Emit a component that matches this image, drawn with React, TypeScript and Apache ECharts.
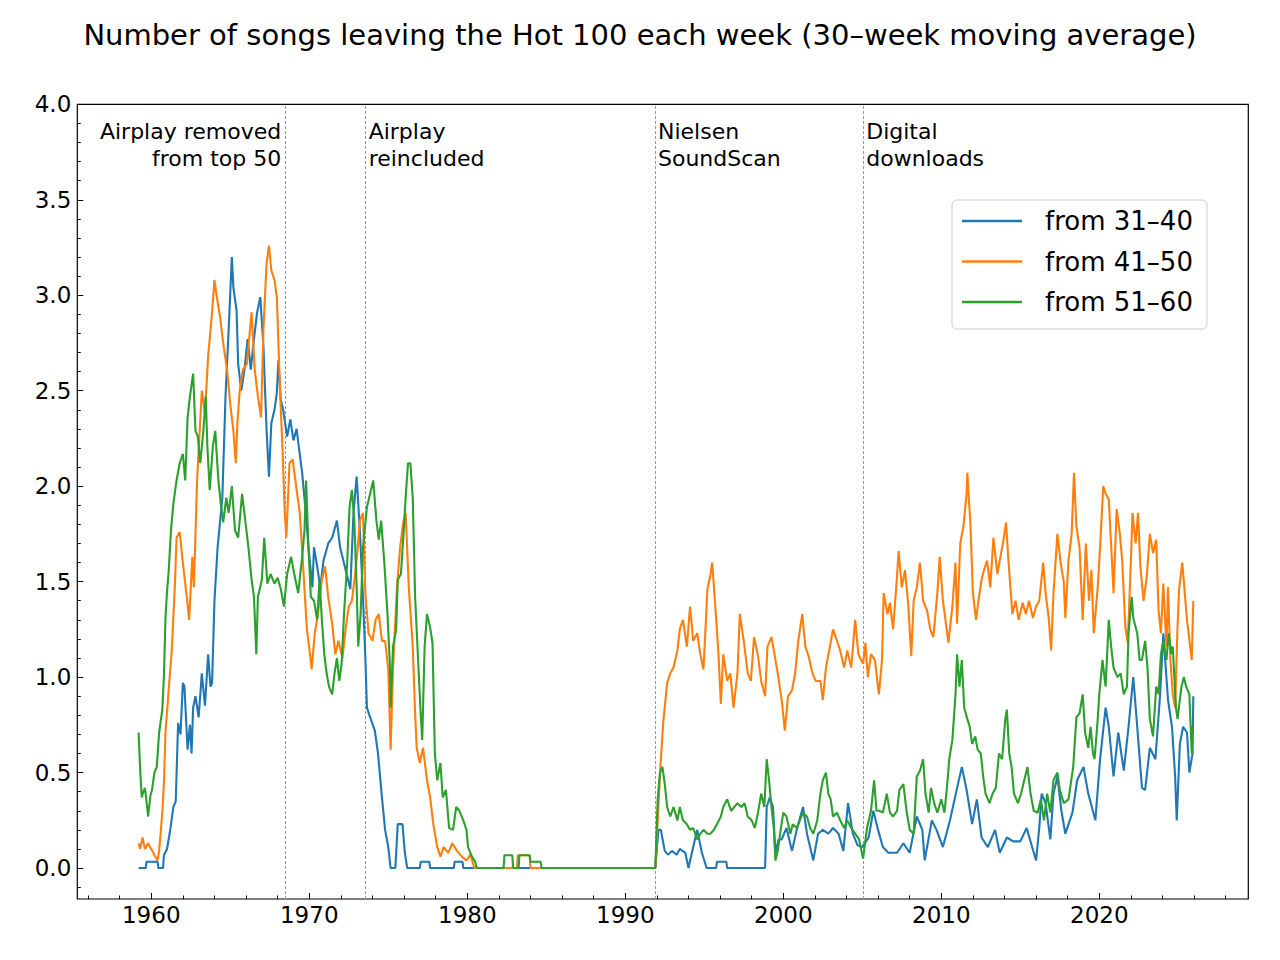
import React, { useEffect, useRef } from "react";
import * as echarts from "echarts";

const TITLE = "Number of songs leaving the Hot 100 each week (30–week moving average)";
const SERIES_NAMES = ["from 31–40", "from 41–50", "from 51–60"];
const COLORS = ["#1f77b4", "#ff7f0e", "#2ca02c"];

const X_MIN = 1955.32;
const X_MAX = 2029.43;
const Y_MIN = -0.162;
const Y_MAX = 4.0;

const X_MAJOR = [1960, 1970, 1980, 1990, 2000, 2010, 2020];
const X_MINOR = [1956, 1958, 1962, 1964, 1966, 1968, 1972, 1974, 1976, 1978, 1982, 1984, 1986, 1988, 1992, 1994, 1996, 1998, 2002, 2004, 2006, 2008, 2012, 2014, 2016, 2018, 2022, 2024, 2026, 2028];
const Y_MAJOR = [0, 0.5, 1.0, 1.5, 2.0, 2.5, 3.0, 3.5, 4.0];
const Y_MINOR = [-0.1, 0.1, 0.2, 0.3, 0.4, 0.6, 0.7, 0.8, 0.9, 1.1, 1.2, 1.3, 1.4, 1.6, 1.7, 1.8, 1.9, 2.1, 2.2, 2.3, 2.4, 2.6, 2.7, 2.8, 2.9, 3.1, 3.2, 3.3, 3.4, 3.6, 3.7, 3.8, 3.9];

const EVENT_YEARS = [1968.48, 1973.57, 1991.88, 2005.06];
const EVENT_LINES = [["Airplay removed", "from top 50"], ["Airplay", "reincluded"], ["Nielsen", "SoundScan"], ["Digital", "downloads"]];
const EVENT_SIDE = ["left", "right", "right", "right"];

const S31_40: [number, number][] = [
  [1959.2, 0], [1959.65, 0], [1959.7, 0.033], [1960.4, 0.033], [1960.45, 0], [1960.75, 0], [1960.8, 0.067], [1961.0, 0.1], [1961.2, 0.2], [1961.4, 0.32], [1961.55, 0.35], [1961.7, 0.76], [1961.85, 0.7], [1962.0, 0.97], [1962.1, 0.95], [1962.3, 0.62], [1962.45, 0.75], [1962.55, 0.6], [1962.65, 0.84], [1962.8, 0.9], [1963.0, 0.79], [1963.2, 1.02], [1963.4, 0.85], [1963.6, 1.12], [1963.75, 0.95], [1963.85, 0.97], [1964.0, 1.40], [1964.2, 1.68], [1964.5, 1.94], [1964.7, 2.47], [1964.9, 2.82], [1965.1, 3.2], [1965.2, 3.04], [1965.4, 2.92], [1965.5, 2.64], [1965.7, 2.5], [1965.9, 2.61], [1966.1, 2.77], [1966.3, 2.61], [1966.5, 2.77], [1966.7, 2.91], [1966.9, 2.99], [1967.1, 2.73], [1967.3, 2.29], [1967.45, 2.05], [1967.6, 2.33], [1967.8, 2.4], [1967.95, 2.49], [1968.05, 2.66], [1968.2, 2.45], [1968.35, 2.4], [1968.6, 2.26], [1968.8, 2.35], [1969.0, 2.24], [1969.2, 2.3], [1969.35, 2.2], [1969.55, 2.07], [1969.75, 1.89], [1969.95, 1.68], [1970.2, 1.47], [1970.3, 1.68], [1970.5, 1.58], [1970.7, 1.47], [1970.9, 1.61], [1971.2, 1.7], [1971.45, 1.73], [1971.75, 1.82], [1971.95, 1.68], [1972.25, 1.58], [1972.6, 1.46], [1972.8, 1.86], [1973.0, 2.05], [1973.2, 1.77], [1973.4, 1.42], [1973.55, 1.1], [1973.65, 0.84], [1973.85, 0.79], [1974.15, 0.72], [1974.35, 0.6], [1974.6, 0.37], [1974.8, 0.2], [1975.0, 0.11], [1975.15, 0], [1975.45, 0], [1975.6, 0.23], [1975.9, 0.23], [1976.05, 0.08], [1976.2, 0], [1977.0, 0], [1977.05, 0.033], [1977.6, 0.033], [1977.65, 0], [1979.15, 0], [1979.2, 0.033], [1979.7, 0.033], [1979.75, 0], [1991.9, 0],
  [1992.1, 0.2], [1992.25, 0.2], [1992.5, 0.09], [1992.7, 0.07], [1992.95, 0.09], [1993.25, 0.07], [1993.45, 0.1], [1993.8, 0.08], [1994.0, 0], [1994.3, 0.11], [1994.55, 0.2], [1994.85, 0.08], [1995.15, 0], [1995.75, 0], [1995.8, 0.033], [1996.4, 0.033], [1996.45, 0], [1998.85, 0], [1998.95, 0.32], [1999.15, 0.37], [1999.35, 0.32], [1999.5, 0.08], [1999.7, 0.15], [1999.9, 0.15], [2000.2, 0.21], [2000.55, 0.09], [2000.85, 0.2], [2001.25, 0.32], [2001.5, 0.18], [2001.9, 0.04], [2002.2, 0.18], [2002.5, 0.2], [2002.85, 0.18], [2003.15, 0.21], [2003.5, 0.18], [2003.8, 0.09], [2004.1, 0.34], [2004.4, 0.18], [2004.7, 0.12], [2005.0, 0.11], [2005.4, 0.16], [2005.7, 0.3], [2006.0, 0.2], [2006.3, 0.11], [2006.65, 0.08], [2007.2, 0.08], [2007.6, 0.13], [2008.0, 0.08], [2008.45, 0.27], [2008.8, 0.2], [2008.95, 0.04], [2009.4, 0.25], [2009.7, 0.2], [2010.1, 0.11], [2010.55, 0.25], [2011.0, 0.42], [2011.3, 0.53], [2011.6, 0.41], [2011.95, 0.23], [2012.25, 0.36], [2012.55, 0.16], [2012.95, 0.11], [2013.4, 0.2], [2013.7, 0.08], [2014.15, 0.16], [2014.55, 0.14], [2015.0, 0.14], [2015.4, 0.21], [2015.75, 0.11], [2016.0, 0.04], [2016.2, 0.21], [2016.35, 0.39], [2016.6, 0.34], [2016.9, 0.15], [2017.1, 0.39], [2017.35, 0.48], [2017.6, 0.3], [2017.85, 0.18], [2018.3, 0.29], [2018.6, 0.46], [2019.0, 0.53], [2019.3, 0.39], [2019.75, 0.25], [2020.05, 0.57], [2020.4, 0.84], [2020.6, 0.74], [2020.9, 0.48], [2021.2, 0.71], [2021.55, 0.51], [2021.85, 0.74], [2022.15, 1.0], [2022.4, 0.74], [2022.7, 0.42], [2022.9, 0.41], [2023.2, 0.63], [2023.55, 0.57], [2023.85, 0.91], [2024.05, 1.23], [2024.35, 0.88], [2024.6, 0.74], [2024.8, 0.48], [2024.9, 0.25], [2025.1, 0.65], [2025.3, 0.74], [2025.55, 0.71], [2025.7, 0.5], [2025.9, 0.6], [2025.95, 0.9],
];

const S41_50: [number, number][] = [
  [1959.2, 0.13], [1959.3, 0.1], [1959.45, 0.16], [1959.6, 0.1], [1959.8, 0.13], [1960.0, 0.1], [1960.2, 0.07], [1960.4, 0.04], [1960.5, 0.09], [1960.7, 0.29], [1960.8, 0.44], [1960.9, 0.71], [1961.1, 0.93], [1961.3, 1.14], [1961.5, 1.49], [1961.6, 1.73], [1961.8, 1.76], [1962.0, 1.6], [1962.25, 1.42], [1962.4, 1.3], [1962.6, 1.63], [1962.7, 1.47], [1962.9, 2.03], [1963.2, 2.5], [1963.4, 2.38], [1963.6, 2.68], [1963.85, 2.91], [1964.0, 3.08], [1964.15, 2.99], [1964.35, 2.89], [1964.55, 2.75], [1964.8, 2.61], [1965.0, 2.43], [1965.2, 2.29], [1965.35, 2.12], [1965.45, 2.33], [1965.6, 2.5], [1965.8, 2.61], [1966.05, 2.64], [1966.25, 2.82], [1966.35, 2.91], [1966.55, 2.61], [1966.75, 2.47], [1966.95, 2.36], [1967.1, 2.82], [1967.3, 3.17], [1967.45, 3.26], [1967.6, 3.13], [1967.8, 3.08], [1967.95, 2.99], [1968.15, 2.5], [1968.3, 2.21], [1968.45, 1.86], [1968.55, 1.73], [1968.75, 2.12], [1968.95, 2.14], [1969.2, 1.98], [1969.4, 1.86], [1969.6, 1.6], [1969.85, 1.25], [1970.05, 1.12], [1970.15, 1.04], [1970.35, 1.23], [1970.55, 1.33], [1970.8, 1.51], [1971.0, 1.58], [1971.2, 1.42], [1971.45, 1.28], [1971.65, 1.12], [1971.85, 1.19], [1972.1, 1.1], [1972.3, 1.25], [1972.5, 1.37], [1972.7, 1.4], [1972.9, 1.54], [1973.05, 1.66], [1973.2, 1.82], [1973.4, 1.86], [1973.55, 1.44], [1973.75, 1.23], [1974.0, 1.19], [1974.2, 1.3], [1974.4, 1.33], [1974.6, 1.19], [1974.8, 1.19], [1975.0, 1.04], [1975.15, 0.62], [1975.3, 1.04], [1975.55, 1.47], [1975.75, 1.68], [1975.95, 1.81], [1976.1, 1.86], [1976.3, 1.47], [1976.55, 1.16], [1976.7, 0.81], [1976.8, 0.63], [1977.0, 0.55], [1977.2, 0.63], [1977.45, 0.46], [1977.65, 0.37], [1977.85, 0.23], [1978.1, 0.11], [1978.3, 0.06], [1978.5, 0.11], [1978.8, 0.08], [1979.05, 0.13], [1979.35, 0.09], [1979.65, 0.06], [1979.95, 0.04], [1980.2, 0.07], [1980.45, 0], [1983.15, 0], [1983.2, 0.067], [1983.95, 0.067], [1984.0, 0], [1991.9, 0],
  [1992.0, 0.15], [1992.2, 0.5], [1992.4, 0.76], [1992.65, 0.97], [1992.85, 1.02], [1993.05, 1.05], [1993.3, 1.14], [1993.45, 1.25], [1993.65, 1.3], [1993.9, 1.16], [1994.1, 1.37], [1994.3, 1.19], [1994.55, 1.23], [1994.75, 1.12], [1994.95, 1.04], [1995.2, 1.46], [1995.4, 1.54], [1995.5, 1.6], [1995.7, 1.37], [1995.9, 1.12], [1996.05, 0.86], [1996.2, 1.12], [1996.45, 0.98], [1996.65, 1.02], [1996.85, 0.84], [1997.1, 1.02], [1997.25, 1.33], [1997.5, 1.19], [1997.75, 1.02], [1997.95, 0.98], [1998.15, 1.21], [1998.4, 1.11], [1998.6, 0.98], [1998.85, 0.9], [1999.0, 1.16], [1999.25, 1.21], [1999.4, 1.14], [1999.65, 1.02], [1999.9, 0.88], [2000.1, 0.72], [2000.3, 0.9], [2000.55, 0.93], [2000.75, 1.02], [2000.95, 1.19], [2001.2, 1.33], [2001.4, 1.16], [2001.6, 1.11], [2001.85, 1.02], [2002.05, 0.98], [2002.35, 0.98], [2002.5, 0.88], [2002.7, 1.05], [2002.95, 1.16], [2003.15, 1.25], [2003.4, 1.19], [2003.6, 1.14], [2003.85, 1.05], [2004.05, 1.14], [2004.3, 1.05], [2004.55, 1.3], [2004.75, 1.12], [2005.05, 1.07], [2005.2, 1.18], [2005.35, 1.0], [2005.55, 1.12], [2005.8, 1.09], [2006.05, 0.91], [2006.25, 1.09], [2006.35, 1.44], [2006.6, 1.33], [2006.75, 1.39], [2006.95, 1.25], [2007.2, 1.53], [2007.3, 1.66], [2007.5, 1.47], [2007.7, 1.56], [2007.9, 1.39], [2008.1, 1.11], [2008.25, 1.4], [2008.45, 1.47], [2008.65, 1.6], [2008.85, 1.4], [2009.1, 1.35], [2009.3, 1.25], [2009.5, 1.21], [2009.75, 1.44], [2009.9, 1.63], [2010.1, 1.4], [2010.25, 1.31], [2010.45, 1.18], [2010.7, 1.37], [2010.9, 1.6], [2011.0, 1.28], [2011.2, 1.7], [2011.4, 1.79], [2011.6, 1.96], [2011.65, 2.07], [2011.85, 1.79], [2012.0, 1.44], [2012.2, 1.3], [2012.35, 1.4], [2012.55, 1.51], [2012.7, 1.56], [2012.9, 1.61], [2013.1, 1.47], [2013.3, 1.73], [2013.55, 1.54], [2013.7, 1.61], [2013.9, 1.7], [2014.1, 1.81], [2014.25, 1.61], [2014.5, 1.33], [2014.7, 1.4], [2014.9, 1.3], [2015.15, 1.39], [2015.35, 1.33], [2015.55, 1.4], [2015.8, 1.31], [2016.0, 1.37], [2016.2, 1.4], [2016.45, 1.6], [2016.6, 1.44], [2016.8, 1.31], [2016.95, 1.14], [2017.1, 1.44], [2017.35, 1.75], [2017.55, 1.6], [2017.75, 1.5], [2017.85, 1.31], [2018.05, 1.61], [2018.25, 1.75], [2018.4, 2.07], [2018.55, 1.79], [2018.75, 1.68], [2018.95, 1.3], [2019.15, 1.7], [2019.35, 1.4], [2019.5, 1.56], [2019.65, 1.23], [2019.9, 1.47], [2020.05, 1.68], [2020.25, 2.0], [2020.4, 1.96], [2020.6, 1.93], [2020.8, 1.61], [2020.9, 1.44], [2021.1, 1.88], [2021.3, 1.75], [2021.45, 1.61], [2021.65, 1.26], [2021.8, 1.18], [2022.0, 1.61], [2022.1, 1.86], [2022.3, 1.7], [2022.45, 1.86], [2022.6, 1.58], [2022.8, 1.4], [2023.0, 1.52], [2023.2, 1.75], [2023.4, 1.65], [2023.6, 1.72], [2023.75, 1.35], [2023.9, 1.23], [2024.05, 1.49], [2024.25, 1.16], [2024.35, 1.47], [2024.5, 1.09], [2024.65, 0.91], [2024.8, 0.84], [2024.95, 1.26], [2025.05, 1.46], [2025.25, 1.6], [2025.45, 1.4], [2025.55, 1.3], [2025.75, 1.16], [2025.85, 1.09], [2025.95, 1.4],
];

const S51_60: [number, number][] = [
  [1959.2, 0.71], [1959.3, 0.51], [1959.4, 0.37], [1959.5, 0.4], [1959.6, 0.42], [1959.7, 0.35], [1959.8, 0.27], [1959.95, 0.38], [1960.05, 0.41], [1960.2, 0.5], [1960.35, 0.53], [1960.5, 0.71], [1960.7, 0.83], [1960.8, 1.0], [1960.9, 1.31], [1961.0, 1.45], [1961.1, 1.55], [1961.25, 1.77], [1961.4, 1.91], [1961.6, 2.03], [1961.8, 2.12], [1962.0, 2.17], [1962.15, 2.03], [1962.3, 2.36], [1962.45, 2.47], [1962.65, 2.59], [1962.8, 2.29], [1962.95, 2.26], [1963.1, 2.12], [1963.3, 2.29], [1963.45, 2.47], [1963.55, 2.21], [1963.7, 1.98], [1963.9, 2.21], [1964.05, 2.29], [1964.25, 2.03], [1964.4, 1.91], [1964.55, 1.81], [1964.75, 1.94], [1964.9, 1.86], [1965.1, 2.0], [1965.3, 1.77], [1965.5, 1.73], [1965.75, 1.96], [1965.95, 1.82], [1966.15, 1.68], [1966.35, 1.51], [1966.5, 1.42], [1966.65, 1.12], [1966.75, 1.42], [1967.0, 1.51], [1967.15, 1.73], [1967.35, 1.49], [1967.55, 1.54], [1967.8, 1.49], [1968.0, 1.52], [1968.2, 1.46], [1968.4, 1.37], [1968.6, 1.54], [1968.85, 1.63], [1969.05, 1.54], [1969.3, 1.44], [1969.55, 1.63], [1969.7, 1.77], [1969.8, 2.03], [1969.95, 1.68], [1970.1, 1.42], [1970.3, 1.4], [1970.5, 1.3], [1970.65, 1.51], [1970.8, 1.3], [1970.95, 1.12], [1971.1, 1.02], [1971.25, 0.95], [1971.45, 0.91], [1971.6, 1.02], [1971.75, 1.1], [1971.9, 0.98], [1972.05, 1.07], [1972.2, 1.33], [1972.4, 1.6], [1972.55, 1.89], [1972.7, 1.98], [1972.85, 1.82], [1973.0, 1.47], [1973.1, 1.16], [1973.25, 1.33], [1973.4, 1.68], [1973.65, 1.89], [1973.85, 1.96], [1974.05, 2.03], [1974.25, 1.82], [1974.4, 1.72], [1974.55, 1.82], [1974.75, 1.6], [1974.95, 1.33], [1975.1, 1.07], [1975.15, 0.84], [1975.3, 1.16], [1975.5, 1.25], [1975.6, 1.51], [1975.8, 1.54], [1975.95, 1.73], [1976.1, 1.94], [1976.25, 2.12], [1976.4, 2.12], [1976.55, 1.94], [1976.7, 1.42], [1976.9, 1.07], [1977.05, 0.81], [1977.15, 0.67], [1977.3, 1.16], [1977.45, 1.33], [1977.65, 1.26], [1977.8, 1.18], [1977.95, 0.6], [1978.1, 0.46], [1978.3, 0.55], [1978.45, 0.37], [1978.65, 0.41], [1978.85, 0.21], [1979.1, 0.2], [1979.3, 0.32], [1979.5, 0.3], [1979.75, 0.25], [1979.95, 0.2], [1980.05, 0.11], [1980.3, 0.06], [1980.5, 0.033], [1980.6, 0], [1982.3, 0], [1982.35, 0.067], [1982.85, 0.067], [1982.9, 0], [1983.25, 0], [1983.3, 0.067], [1983.95, 0.067], [1984.0, 0.033], [1984.65, 0.033], [1984.7, 0], [1991.9, 0],
  [1992.05, 0.36], [1992.2, 0.5], [1992.35, 0.53], [1992.5, 0.44], [1992.65, 0.32], [1992.85, 0.27], [1993.05, 0.32], [1993.3, 0.25], [1993.45, 0.32], [1993.65, 0.25], [1993.9, 0.23], [1994.1, 0.2], [1994.3, 0.21], [1994.55, 0.15], [1994.75, 0.18], [1994.95, 0.2], [1995.2, 0.18], [1995.4, 0.18], [1995.6, 0.2], [1995.8, 0.23], [1996.05, 0.27], [1996.2, 0.32], [1996.45, 0.36], [1996.7, 0.3], [1996.9, 0.32], [1997.1, 0.34], [1997.35, 0.32], [1997.55, 0.34], [1997.75, 0.27], [1998.0, 0.25], [1998.2, 0.21], [1998.4, 0.29], [1998.6, 0.39], [1998.8, 0.32], [1998.95, 0.57], [1999.1, 0.46], [1999.25, 0.32], [1999.4, 0.21], [1999.5, 0.04], [1999.65, 0.09], [1999.8, 0.18], [2000.0, 0.29], [2000.2, 0.27], [2000.45, 0.18], [2000.6, 0.23], [2000.85, 0.21], [2001.05, 0.25], [2001.25, 0.29], [2001.5, 0.27], [2001.7, 0.21], [2001.9, 0.18], [2002.15, 0.25], [2002.35, 0.39], [2002.5, 0.46], [2002.7, 0.5], [2002.85, 0.39], [2003.0, 0.36], [2003.15, 0.27], [2003.4, 0.29], [2003.6, 0.25], [2003.85, 0.21], [2004.05, 0.25], [2004.3, 0.21], [2004.55, 0.18], [2004.8, 0.15], [2005.05, 0.05], [2005.3, 0.21], [2005.55, 0.3], [2005.75, 0.46], [2005.9, 0.3], [2006.1, 0.3], [2006.3, 0.29], [2006.55, 0.39], [2006.75, 0.29], [2006.95, 0.27], [2007.2, 0.3], [2007.35, 0.41], [2007.6, 0.44], [2007.8, 0.3], [2008.0, 0.2], [2008.25, 0.18], [2008.45, 0.48], [2008.65, 0.51], [2008.85, 0.57], [2009.0, 0.39], [2009.2, 0.29], [2009.35, 0.42], [2009.55, 0.34], [2009.75, 0.29], [2010.0, 0.36], [2010.2, 0.29], [2010.4, 0.46], [2010.5, 0.57], [2010.7, 0.67], [2010.9, 0.91], [2011.0, 1.12], [2011.15, 0.95], [2011.3, 1.09], [2011.45, 0.84], [2011.65, 0.78], [2011.8, 0.74], [2011.95, 0.65], [2012.15, 0.69], [2012.3, 0.62], [2012.5, 0.6], [2012.65, 0.48], [2012.8, 0.39], [2013.05, 0.34], [2013.25, 0.39], [2013.45, 0.42], [2013.65, 0.6], [2013.85, 0.57], [2014.05, 0.78], [2014.15, 0.83], [2014.3, 0.6], [2014.45, 0.53], [2014.6, 0.39], [2014.85, 0.34], [2015.05, 0.39], [2015.25, 0.46], [2015.45, 0.53], [2015.65, 0.39], [2015.85, 0.3], [2016.1, 0.29], [2016.3, 0.36], [2016.5, 0.25], [2016.7, 0.39], [2016.9, 0.29], [2017.1, 0.46], [2017.35, 0.5], [2017.5, 0.41], [2017.75, 0.34], [2018.05, 0.36], [2018.35, 0.53], [2018.55, 0.79], [2018.75, 0.81], [2018.95, 0.91], [2019.1, 0.71], [2019.3, 0.63], [2019.45, 0.74], [2019.6, 0.6], [2019.7, 0.57], [2019.9, 0.78], [2020.0, 0.91], [2020.2, 1.09], [2020.4, 0.95], [2020.6, 1.3], [2020.75, 1.16], [2020.9, 1.05], [2021.15, 1.0], [2021.35, 1.02], [2021.55, 0.91], [2021.75, 0.95], [2021.85, 1.23], [2022.05, 1.42], [2022.15, 1.31], [2022.4, 1.23], [2022.55, 1.09], [2022.7, 1.09], [2022.9, 1.19], [2023.05, 1.05], [2023.2, 0.78], [2023.4, 0.69], [2023.6, 0.95], [2023.75, 0.91], [2023.9, 1.12], [2024.05, 1.19], [2024.25, 1.09], [2024.4, 1.23], [2024.55, 1.12], [2024.65, 1.16], [2024.85, 0.84], [2024.95, 0.78], [2025.2, 0.95], [2025.35, 1.0], [2025.5, 0.95], [2025.7, 0.91], [2025.85, 0.6], [2025.9, 0.74], [2025.95, 0.71],
];

const FONT = "'DejaVu Sans', sans-serif";

export default function App() {
  const ref = useRef<HTMLDivElement>(null);
  useEffect(() => {
    if (!ref.current) return;
    const chart = echarts.init(ref.current, null, { renderer: "svg" });
    const seriesData = [S31_40, S41_50, S51_60];
    const axisCommon = {
      type: "value" as const,
      axisLine: { show: false, onZero: false },
      splitLine: { show: false },
    };
    chart.setOption({
      animation: false,
      backgroundColor: "#ffffff",
      title: {
        text: TITLE,
        left: "center",
        top: 12,
        textStyle: { fontFamily: FONT, fontWeight: "normal", fontSize: 29, color: "#000", lineHeight: 36 },
      },
      grid: {
        left: 77.3,
        right: 31.7,
        top: 104.3,
        bottom: 61,
        show: true,
        borderColor: "#000",
        borderWidth: 1.2,
        backgroundColor: "transparent",
      },
      legend: {
        orient: "vertical",
        left: 952,
        top: 200,
        padding: [6, 14, 12, 10],
        itemWidth: 60,
        itemHeight: 2.4,
        itemGap: 10.5,
        icon: "rect",
        backgroundColor: "rgba(255,255,255,0.8)",
        borderColor: "#cccccc",
        borderWidth: 1,
        borderRadius: 5,
        textStyle: { fontFamily: FONT, fontWeight: "normal", fontSize: 26, color: "#000", lineHeight: 30, padding: [0, 0, 0, 18] },
        data: SERIES_NAMES,
      },
      xAxis: [
        {
          ...axisCommon,
          min: X_MIN,
          max: X_MAX,
          position: "bottom",
          axisTick: { show: true, inside: true, length: 6, customValues: X_MAJOR, lineStyle: { color: "#000", width: 1 } },
          axisLabel: { customValues: X_MAJOR, margin: 4, fontFamily: FONT, fontSize: 23, color: "#000", formatter: (v: number) => String(Math.round(v)) },
        },
        {
          ...axisCommon,
          min: X_MIN,
          max: X_MAX,
          position: "bottom",
          axisTick: { show: true, inside: true, length: 3.5, customValues: X_MINOR, lineStyle: { color: "#000", width: 1 } },
          axisLabel: { show: false },
        },
      ],
      yAxis: [
        {
          ...axisCommon,
          min: Y_MIN,
          max: Y_MAX,
          position: "left",
          axisTick: { show: true, inside: true, length: 6, customValues: Y_MAJOR, lineStyle: { color: "#000", width: 1 } },
          axisLabel: { customValues: Y_MAJOR, margin: 6, fontFamily: FONT, fontSize: 23, color: "#000", formatter: (v: number) => v.toFixed(1) },
        },
        {
          ...axisCommon,
          min: Y_MIN,
          max: Y_MAX,
          position: "left",
          axisTick: { show: true, inside: true, length: 3.5, customValues: Y_MINOR, lineStyle: { color: "#000", width: 1 } },
          axisLabel: { show: false },
        },
      ],
      series: seriesData.map((d, i) => ({
        name: SERIES_NAMES[i],
        type: "line",
        xAxisIndex: 0,
        yAxisIndex: 0,
        data: d,
        showSymbol: false,
        symbol: "none",
        clip: true,
        lineStyle: { color: COLORS[i], width: 2.1 },
        itemStyle: { color: COLORS[i] },
        z: 2 + i,
        markLine:
          i === 0
            ? {
                silent: true,
                symbol: ["none", "none"],
                label: { show: false },
                lineStyle: { color: "#999", type: [3, 2], width: 1 },
                data: EVENT_YEARS.map((x) => ({ xAxis: x })),
                z: 1,
              }
            : undefined,
      })),
    });

    const graphics: any[] = [];
    EVENT_YEARS.forEach((yr, i) => {
      const px = chart.convertToPixel({ xAxisIndex: 0 }, yr) as number;
      const left = EVENT_SIDE[i] === "left";
      EVENT_LINES[i].forEach((line, j) => {
        graphics.push({
          type: "text",
          x: left ? px - 4 : px + 3,
          y: 131 + j * 27,
          silent: true,
          style: {
            text: line,
            align: left ? "right" : "left",
            verticalAlign: "middle",
            fontFamily: FONT,
            fontSize: 22,
            fill: "#000",
          },
        });
      });
    });
    chart.setOption({ graphic: graphics });

    return () => chart.dispose();
  }, []);
  return <div ref={ref} style={{ position: "fixed", left: 0, top: 0, width: 1280, height: 960 }} />;
}
